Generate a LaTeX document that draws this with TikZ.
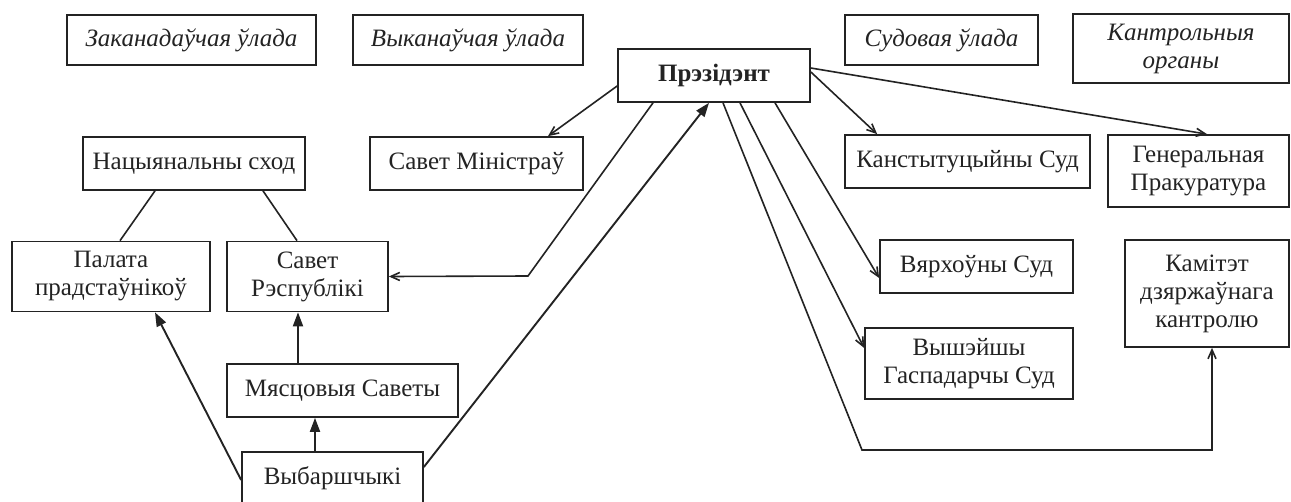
\documentclass[tikz,border=0pt]{standalone}
\usepackage{fontspec}
\setmainfont{Liberation Serif}
\usetikzlibrary{arrows.meta}
\definecolor{ink}{RGB}{35,35,35}
\begin{document}
\begin{tikzpicture}[x=1pt,y=-1pt,
  box/.style={draw=ink, line width=1.7pt, text=ink, inner sep=0pt, align=center,
    font=\fontsize{25}{28}\selectfont},
  hdr/.style={box, font=\fontsize{25}{28}\selectfont\itshape},
  conn/.style={draw=ink, line width=1.6pt, -{Straight Barb[length=9pt,width=8pt]}},
  boldarr/.style={draw=ink, line width=1.9pt, -{Triangle[length=14pt,width=10pt]}},
  plain/.style={draw=ink, line width=1.6pt}]
\useasboundingbox (0,0) rectangle (1291,501);
\fill[white] (0,0) rectangle (1291,501);
\clip (0,0) rectangle (1291,501);
% headers
\node[hdr, minimum width=249pt, minimum height=50pt] (zak) at (191.5,40) {Заканадаўчая ўлада};
\node[hdr, minimum width=230pt, minimum height=50pt] (vyk) at (468,40) {Выканаўчая ўлада};
\node[hdr, minimum width=193pt, minimum height=50pt] (sud) at (941.5,40) {Судовая ўлада};
\node[hdr, minimum width=216pt, minimum height=69pt] (kontr) at (1181,48.5) {Кантрольныя\\органы};
% president
\node[box, font=\fontsize{25}{28}\selectfont\bfseries, minimum width=192pt, minimum height=53pt] (pres) at (714,75.5) {Прэзідэнт};
% second row
\node[box, minimum width=222pt, minimum height=53pt] (nac) at (194,163.5) {Нацыянальны сход};
\node[box, minimum width=213pt, minimum height=53pt] (savmin) at (476.5,163.5) {Савет Міністраў};
\node[box, minimum width=245pt, minimum height=53pt] (kanst) at (967.5,161.5) {Канстытуцыйны Суд};
\node[box, minimum width=181pt, minimum height=72pt] (gen) at (1198.5,171) {Генеральная\\Пракуратура};
% third row
\node[box, minimum width=198pt, minimum height=70pt] (palata) at (111,276.5) {Палата\\прадстаўнікоў};
\node[box, minimum width=161pt, minimum height=70pt] (savresp) at (307.5,276.5) {Савет\\Рэспублікі};
\node[box, minimum width=193pt, minimum height=53pt] (vyarh) at (976.5,266.5) {Вярхоўны Суд};
\node[box, minimum width=164pt, minimum height=107pt] (kamitet) at (1207,293.5) {Камітэт\\дзяржаўнага\\кантролю};
\node[box, minimum width=208pt, minimum height=71pt] (vyshei) at (969,363.5) {Вышэйшы\\Гаспадарчы Суд};
\node[box, minimum width=231pt, minimum height=53pt] (myas) at (342.5,390.5) {Мясцовыя Саветы};
\node[box, minimum width=181pt, minimum height=53pt] (vyb) at (332.5,478.5) {Выбаршчыкі};
% bend points
\coordinate (c1) at (528,276);
\coordinate (c2) at (862,450);
\coordinate (c3) at (1212,450);
% connectors
\draw[plain] ([xshift=-39pt]nac.south) -- ([xshift=9pt]palata.north);
\draw[plain] ([xshift=69pt]nac.south) -- ([xshift=-10.5pt]savresp.north);
\draw[conn] ([yshift=-10.5pt]pres.west) -- ([xshift=71.5pt]savmin.north);
\draw[conn] ([yshift=3.5pt]pres.east) -- ([xshift=33pt]kanst.north west);
\draw[conn] ([yshift=7.5pt]pres.east) -- ([xshift=8.5pt]gen.north);
\draw[conn] ([xshift=-61pt]pres.south) -- (c1) -- (savresp.east);
\draw[boldarr] ([yshift=11.5pt]vyb.east) -- ([xshift=-5pt]pres.south);
\draw[conn] ([xshift=9pt]pres.south) -- (c2) -- (c3) -- ([xshift=5pt]kamitet.south);
\draw[conn] ([xshift=26pt]pres.south) -- ([yshift=15.5pt]vyshei.west);
\draw[conn] ([xshift=61pt]pres.south) -- ([yshift=-11.5pt]vyarh.west);
\draw[boldarr] ([yshift=-1.5pt]vyb.west) -- ([xshift=44pt]palata.south);
\draw[boldarr] ([xshift=-44.5pt]myas.north) -- ([xshift=-9.5pt]savresp.south);
\draw[boldarr] ([xshift=-17.5pt]vyb.north) -- ([xshift=-27.5pt]myas.south);
\end{tikzpicture}
\end{document}
